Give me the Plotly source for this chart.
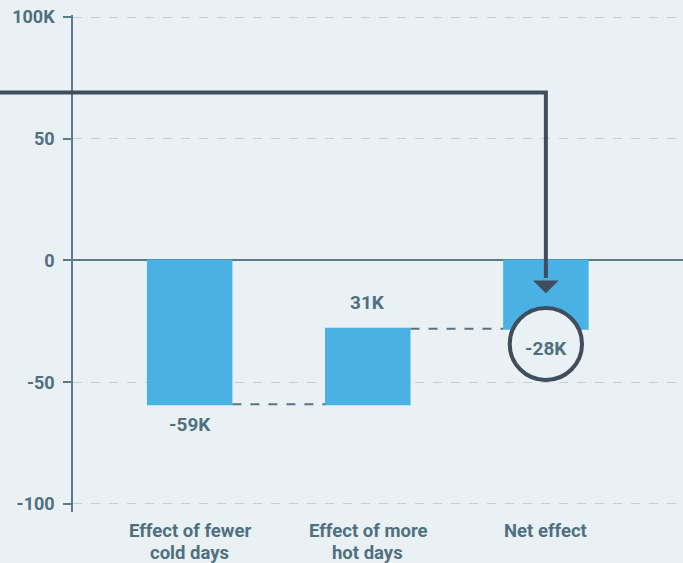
import plotly.graph_objects as go

categories = ["Effect of fewer cold days", "Effect of more hot days", "Net effect"]
cat_lines = [["Effect of fewer", "cold days"], ["Effect of more", "hot days"], ["Net effect", ""]]
values = [-59, 31, -28]
measures = ["relative", "relative", "total"]
value_labels = ["-59K", "31K", "-28K"]
ytick_vals = [100, 50, 0, -50, -100]
ytick_text = ["100K", "50", "0", "-50", "-100"]

BG = "#e9f1f5"
BAR = "#4ab1e4"
DARK = "#404d5d"
TXT = "#507080"
FONT = "Roboto, Arial"

xmin, xmax = -0.655, 2.77
ymin, ymax = -103.3, 100.82

fig = go.Figure()
fig.add_trace(go.Waterfall(
    x=[0, 1, 2],
    y=[values[0], values[1], 0],
    measure=measures,
    width=0.48,
    increasing=dict(marker=dict(color=BAR)),
    decreasing=dict(marker=dict(color=BAR)),
    totals=dict(marker=dict(color=BAR)),
    connector=dict(mode="between", line=dict(color="#5a7282", width=2, dash="dash")),
    textinfo="none",
    hoverinfo="skip",
))

# value labels
fig.add_annotation(x=0, y=values[0], text="<b>%s</b>" % value_labels[0], showarrow=False,
                   yanchor="top", yshift=-7, font=dict(family=FONT, size=19, color=TXT))
fig.add_annotation(x=1, y=values[2], text="<b>%s</b>" % value_labels[1], showarrow=False,
                   yanchor="bottom", yshift=13, font=dict(family=FONT, size=19, color=TXT))

# category labels (two lines, tight spacing)
for i, (l1, l2) in enumerate(cat_lines):
    for j, line in enumerate([l1, l2]):
        if line:
            fig.add_annotation(x=i, xref="x", y=0, yref="paper", text="<b>%s</b>" % line,
                               showarrow=False, yanchor="middle", yshift=-19 - 21.5 * j,
                               font=dict(family=FONT, size=18.5, color=TXT))

# callout arrow
def px(xv):
    return (xv - xmin) / (xmax - xmin)

arrow_y = 69
tip_y = -13.5
head_y = -8.2
fig.add_shape(type="path", xref="paper", yref="y",
              path="M -0.125 %s L %.4f %s L %.4f %s" % (arrow_y, px(2), arrow_y, px(2), head_y + 1),
              line=dict(color=DARK, width=4), layer="above")
fig.add_shape(type="path", xref="x", yref="y",
              path="M %.3f %s L %.3f %s L 2 %s Z" % (2 - 0.072, head_y, 2 + 0.072, head_y, tip_y),
              fillcolor=DARK, line=dict(color=DARK, width=0), layer="above")

# circle around net effect label
cy = -34.3
fig.add_shape(type="circle", xref="x", yref="y",
              x0=2 - 0.203, x1=2 + 0.203, y0=cy - 14.8, y1=cy + 14.8,
              fillcolor=BG, line=dict(color=DARK, width=4), layer="above")
fig.add_annotation(x=2, y=-36.3, text="<b>%s</b>" % value_labels[2], showarrow=False,
                   font=dict(family=FONT, size=19, color=TXT))

fig.update_layout(
    width=683, height=563,
    margin=dict(l=73, r=0, t=15, b=51),
    paper_bgcolor=BG, plot_bgcolor=BG,
    showlegend=False,
    font=dict(family=FONT, size=18, color=TXT),
    xaxis=dict(range=[xmin, xmax], tickvals=[0, 1, 2], showticklabels=False,
               showgrid=False, zeroline=False, showline=False, ticks="", fixedrange=True),
    yaxis=dict(range=[ymin, ymax], tickvals=ytick_vals,
               ticktext=["<b>%s</b>" % t for t in ytick_text],
               showgrid=True, gridcolor="#c9cdd1", griddash="dash", gridwidth=1,
               zeroline=True, zerolinecolor="#5b7a8a", zerolinewidth=1.5,
               showline=True, linecolor="#5b7a8a", linewidth=1.5,
               ticks="outside", ticklen=8, tickcolor="#5b7a8a", tickwidth=1.5,
               ticklabelstandoff=5,
               tickfont=dict(family=FONT, size=18, color=TXT), fixedrange=True),
)

fig.write_html("out.html")
